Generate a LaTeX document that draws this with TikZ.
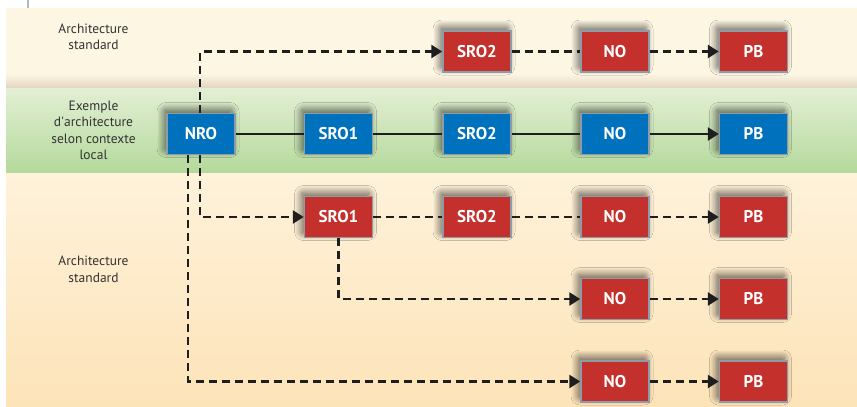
\documentclass[tikz,border=0pt]{standalone}
\usepackage{fontspec}
\setmainfont{PT Sans}
\usetikzlibrary{arrows.meta,shadows.blur}

\definecolor{cream}{HTML}{FDF6E3}
\definecolor{creamdark}{HTML}{E2D5C2}
\definecolor{greentop}{HTML}{E3EFD4}
\definecolor{greenbot}{HTML}{B4D99B}
\definecolor{lowtop}{HTML}{FEF2DA}
\definecolor{lowbot}{HTML}{FDE3B8}
\definecolor{boxred}{HTML}{C4302B}
\definecolor{boxblue}{HTML}{0071BC}
\definecolor{boxedge}{HTML}{8E9BA8}
\definecolor{ink}{HTML}{1E1E1E}
\definecolor{labelink}{HTML}{333333}

\tikzset{
  netbox/.style={rectangle, minimum width=68pt, minimum height=41pt,
    draw=boxedge, line width=1.5pt, text=white,
    font=\fontsize{17}{19}\selectfont\bfseries,
    blur shadow={shadow xshift=-3pt, shadow yshift=4pt,
      shadow blur radius=7pt, shadow blur steps=14,
      shadow blur extra rounding=2pt, shadow opacity=60}},
  redbox/.style={netbox, fill=boxred},
  bluebox/.style={netbox, fill=boxblue},
  link/.style={draw=ink, line width=2.6pt},
  dashlink/.style={link, dash pattern=on 8pt off 5pt},
  tip/.style={-{Triangle[length=11pt,width=13pt]}},
  rowlabel/.style={align=center, text=labelink,
    font=\fontsize{13.5}{16.5}\selectfont}
}

\begin{document}
\begin{tikzpicture}[x=1pt,y=-1pt]
\useasboundingbox (0,0) rectangle (857,407);

% background bands
\fill[white] (0,0) rectangle (857,407);
\draw[color=boxedge!70, line width=2pt] (28,0) -- (28,8);
\fill[cream] (6,8) rectangle (857,74);
\shade[top color=cream, bottom color=creamdark] (6,74) rectangle (857,88);
\shade[top color=greentop, bottom color=greenbot] (6,88) rectangle (857,173);
\shade[top color=lowtop, bottom color=lowbot] (6,173) rectangle (857,407);

% row labels
\node[rowlabel] (labA) at (93.5,37) {Architecture\\standard};
\node[rowlabel] (labB) at (93.5,130.5) {Exemple\\d\textquotesingle architecture\\selon contexte\\local};
\node[rowlabel] (labC) at (93.5,269.5) {Architecture\\standard};

% top row
\node[redbox] (sroTwoA) at (477,51.5) {SRO2};
\node[redbox] (noA) at (615,51.5) {NO};
\node[redbox] (pbA) at (753.5,51.5) {PB};

% local context row
\node[bluebox] (nro) at (201,134) {NRO};
\node[bluebox] (sroOneB) at (338.5,134) {SRO1};
\node[bluebox] (sroTwoB) at (477,134) {SRO2};
\node[bluebox] (noB) at (615,134) {NO};
\node[bluebox] (pbB) at (753.5,134) {PB};

% standard rows below
\node[redbox] (sroOneC) at (338.5,217) {SRO1};
\node[redbox] (sroTwoC) at (477,217) {SRO2};
\node[redbox] (noC) at (615,217) {NO};
\node[redbox] (pbC) at (753.5,217) {PB};

\node[redbox] (noD) at (615,299) {NO};
\node[redbox] (pbD) at (753.5,299) {PB};

\node[redbox] (noE) at (615,381.5) {NO};
\node[redbox] (pbE) at (753.5,381.5) {PB};

% solid chain
\draw[link] (nro) -- (sroOneB);
\draw[link] (sroOneB) -- (sroTwoB);
\draw[link] (sroTwoB) -- (noB);
\draw[link, tip] (noB) -- (pbB);

% top dashed chain
\draw[dashlink, tip] ([xshift=-1pt]nro.north) |- (sroTwoA.west);
\draw[dashlink] (sroTwoA) -- (noA);
\draw[dashlink, tip] (noA) -- (pbA);

% first lower chain
\draw[dashlink, tip] ([xshift=-1pt]nro.south) |- (sroOneC.west);
\draw[dashlink] (sroOneC) -- (sroTwoC);
\draw[dashlink] (sroTwoC) -- (noC);
\draw[dashlink, tip] (noC) -- (pbC);

% branch from SRO1
\draw[dashlink, tip] (sroOneC.south) |- (noD.west);
\draw[dashlink, tip] (noD) -- (pbD);

% direct branch from NRO
\draw[dashlink, tip] ([xshift=-13pt]nro.south) |- (noE.west);
\draw[dashlink, tip] (noE) -- (pbE);
\end{tikzpicture}
\end{document}
